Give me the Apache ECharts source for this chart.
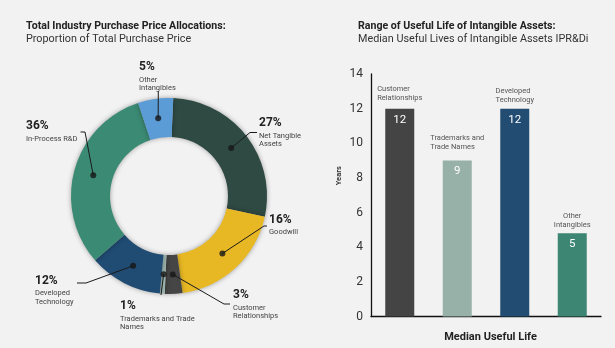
<!DOCTYPE html>
<html>
<head>
<meta charset="utf-8">
<script src="https://cdn.jsdelivr.net/npm/echarts@6/dist/echarts.min.js"></script>
<style>
html,body{margin:0;padding:0;background:#f1f2f1;}
#chart{width:615px;height:348px;}
</style>
</head>
<body>
<div id="chart"></div>
<script>
// ---- Data ----
var pieNames = ['Net Tangible\nAssets', 'Goodwill', 'Customer\nRelationships', 'Trademarks and Trade\nNames', 'Developed\nTechnology', 'In-Process R&D', 'Other\nIntangibles'];
var piePrinted = [27, 16, 3, 1, 12, 36, 5];          // percentages printed on the labels
var pieDrawn = [27.7, 19.4, 2.9, 0.8, 12.1, 31.3, 5.8]; // slice sizes as drawn in the picture
var barCategories = ['Customer\nRelationships', 'Trademarks and\nTrade Names', 'Developed\nTechnology', 'Other\nIntangibles'];
var barValues = [12, 9, 12, 4.8];
var barPrinted = [12, 9, 12, 5];
var yTicks = {min: 0, max: 14, interval: 2};

// ---- Styles / layout ----
var pieColors = ['#2f4a43', '#e8b824', '#454545', '#9db6af', '#204b73', '#3b8a74', '#5b9bd6'];
var barColors = ['#444444', '#97b0a8', '#224c72', '#3d8673'];
var pieCenter = [169, 196];
var labelPos = [[259, 114.5], [269, 211], [233, 286.5], [120, 297.5], [35, 272], [26, 117.5], [139, 58.5]];
var linePts = [
  [[250, 132.5], [257, 132.5]],
  [[264, 226], [267, 226]],
  [[224, 304], [230, 304]],
  [[161, 295]],
  [[86, 283], [77, 283]],
  [[85, 132], [80.5, 132]],
  [[158.3, 91]]
];
var catAlign = ['l', 'l', 'l', 'c'];
var catDist = [6, 9, 4.5, 4];

var total = pieDrawn.reduce(function (a, b) { return a + b; }, 0);
var mids = [];
var acc = 0;
pieDrawn.forEach(function (v) { mids.push([78.5, acc + v / 2]); acc += v; });

var chart = echarts.init(document.getElementById('chart'));
var titleStyle = {fontFamily: 'Roboto', fontSize: 10.6, fontWeight: 'bold', color: '#222', lineHeight: 13};
var subStyle = {fontFamily: 'Roboto', fontSize: 10.8, color: '#333', lineHeight: 13};
var option = {
  backgroundColor: '#f1f2f1',
  animation: false,
  title: [
    {
      left: 26, top: 19.5, itemGap: 0, padding: 0,
      text: 'Total Industry Purchase Price Allocations:',
      subtext: 'Proportion of Total Purchase Price',
      textStyle: titleStyle, subtextStyle: subStyle
    },
    {
      left: 358, top: 19.5, itemGap: 0, padding: 0,
      text: 'Range of Useful Life of Intangible Assets:',
      subtext: 'Median Useful Lives of Intangible Assets IPR&Di',
      textStyle: titleStyle, subtextStyle: subStyle
    }
  ],
  polar: {center: pieCenter, radius: 98},
  angleAxis: {type: 'value', min: 0, max: total, startAngle: 87.5, clockwise: true, show: false},
  radiusAxis: {type: 'value', min: 0, max: 98, show: false},
  grid: {left: 371, width: 230, top: 74, bottom: 31},
  xAxis: {
    type: 'category', data: barCategories,
    name: 'Median Useful Life', nameLocation: 'middle', nameGap: 15.5,
    nameTextStyle: {fontFamily: 'Roboto', fontSize: 11, fontWeight: 'bold', color: '#222', padding: [0, 0, 0, 9]},
    axisLine: {lineStyle: {color: '#111', width: 1.3}},
    axisTick: {show: false}, axisLabel: {show: false}
  },
  yAxis: {
    type: 'value', min: yTicks.min, max: yTicks.max, interval: yTicks.interval,
    name: 'Years', nameLocation: 'middle', nameGap: 28,
    nameTextStyle: {fontFamily: 'Roboto', fontSize: 7.5, fontWeight: 'bold', color: '#333', padding: [0, 0, 0, 39]},
    axisLine: {show: true, lineStyle: {color: '#111', width: 1.3}},
    axisTick: {show: false}, splitLine: {show: false},
    axisLabel: {fontFamily: 'Roboto', fontSize: 12, color: '#333', margin: 8}
  },
  series: [
    {
      type: 'pie', center: pieCenter, radius: [59, 98], startAngle: 87.5, clockwise: true,
      silent: true, label: {show: false}, labelLine: {show: false},
      itemStyle: {shadowBlur: 5, shadowColor: 'rgba(0,0,0,0.35)'},
      data: pieDrawn.map(function (v, i) { return {value: v, name: pieNames[i], itemStyle: {color: pieColors[i]}}; })
    },
    {
      type: 'pie', center: pieCenter, radius: [0, 78.5], startAngle: 87.5, clockwise: true,
      silent: true, z: 3,
      itemStyle: {color: 'rgba(0,0,0,0)'},
      label: {
        show: true, position: 'outside',
        formatter: function (p) { return '{p|' + piePrinted[p.dataIndex] + '%}\n{n|' + pieNames[p.dataIndex] + '}'; },
        rich: {
          p: {fontFamily: 'Roboto', fontSize: 12, fontWeight: 'bold', color: '#222', lineHeight: 17, align: 'left'},
          n: {fontFamily: 'Roboto', fontSize: 7.5, color: '#444', lineHeight: 8.5, align: 'left'}
        }
      },
      labelLine: {show: true, length: 5, length2: 5, lineStyle: {color: '#1a1a1a', width: 1}},
      labelLayout: function (params) {
        var i = params.dataIndex;
        var start = params.labelLinePoints ? params.labelLinePoints[0] : linePts[i][0];
        return {
          x: labelPos[i][0], y: labelPos[i][1], align: 'left', verticalAlign: 'top',
          labelLinePoints: [start].concat(linePts[i])
        };
      },
      data: pieDrawn.map(function (v, i) { return {value: v, name: pieNames[i]}; })
    },
    {
      type: 'scatter', coordinateSystem: 'polar', symbolSize: 6, silent: true, z: 5,
      itemStyle: {color: '#161616'},
      data: mids
    },
    {
      type: 'bar', barWidth: 29, z: 2,
      data: barValues.map(function (v, i) { return {value: v, itemStyle: {color: barColors[i]}}; }),
      label: {
        show: true, position: 'insideTop', distance: 5,
        formatter: function (p) { return barPrinted[p.dataIndex]; },
        fontFamily: 'Roboto', fontSize: 11.5, color: '#fff'
      }
    },
    {
      type: 'bar', barWidth: 29, barGap: '-100%', z: 1, silent: true,
      itemStyle: {color: 'rgba(0,0,0,0)'},
      data: barValues.map(function (v, i) {
        return {value: v, label: {distance: catDist[i]}};
      }),
      label: {
        show: true, position: 'top',
        formatter: function (p) { return '{' + catAlign[p.dataIndex] + '|' + barCategories[p.dataIndex] + '}'; },
        rich: {
          l: {fontFamily: 'Roboto', fontSize: 7.5, color: '#555', lineHeight: 9, align: 'left'},
          c: {fontFamily: 'Roboto', fontSize: 7.5, color: '#555', lineHeight: 9, align: 'center'}
        }
      }
    }
  ]
};
chart.setOption(option);
</script>
</body>
</html>
